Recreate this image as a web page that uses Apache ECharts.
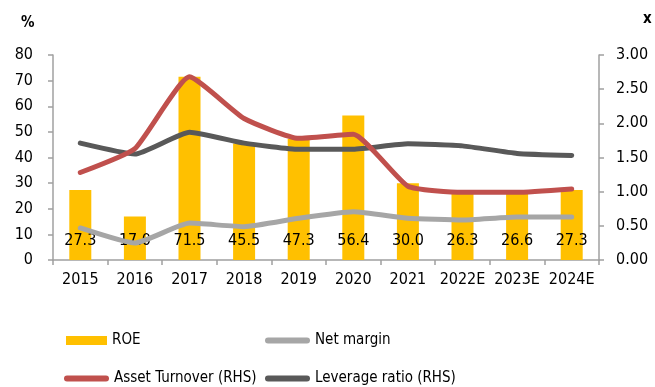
<!DOCTYPE html>
<html>
<head>
<meta charset="utf-8">
<script src="https://cdn.jsdelivr.net/npm/echarts@6/dist/echarts.min.js"></script>
<style>
  html, body { margin: 0; padding: 0; background: #fff; }
  #chart { width: 655px; height: 387px; }
</style>
</head>
<body>
<div id="chart"></div>
<script>
// Years on the category axis
const years = ['2015', '2016', '2017', '2018', '2019', '2020', '2021', '2022E', '2023E', '2024E'];
// Return on equity, % (left axis)
const roe = [27.3, 17.0, 71.5, 45.5, 47.3, 56.4, 30.0, 26.3, 26.6, 27.3];
// Net margin, % (left axis)
const netMargin = [12.5, 6.6, 14.4, 13.0, 16.3, 18.8, 16.3, 15.6, 16.8, 16.8];
// Asset turnover, x (right axis)
const assetTurnover = [1.28, 1.63, 2.68, 2.07, 1.78, 1.84, 1.08, 0.99, 0.99, 1.04];
// Leverage ratio, x (right axis)
const leverage = [1.71, 1.55, 1.87, 1.71, 1.62, 1.62, 1.70, 1.67, 1.56, 1.53];
// Axis tick labels
const leftTicks = [0, 10, 20, 30, 40, 50, 60, 70, 80];
const rightTicks = ['0.00', '0.50', '1.00', '1.50', '2.00', '2.50', '3.00'];

const FONT = '"DejaVu Sans Condensed", "DejaVu Sans", sans-serif';
const AXIS_GREY = '#A0A0A0';

// Pill-shaped swatch for the line series in the legend
const PILL = 'path://M3,0 L42,0 A3,3 0 0 1 42,6 L3,6 A3,3 0 0 1 3,0 Z';

const chart = echarts.init(document.getElementById('chart'), null, { renderer: 'canvas' });

const legendText = { fontFamily: FONT, fontSize: 15, color: '#000' };
const legendBase = { orient: 'horizontal', padding: 0, itemWidth: 44, itemHeight: 9, itemGap: 5, textStyle: legendText, selectedMode: false };
const lineLegend = { itemHeight: 6, itemWidth: 45 };

chart.setOption({
  animation: false,
  textStyle: { fontFamily: FONT },
  grid: { left: 53, right: 56, top: 55, height: 205 },
  legend: [
    Object.assign({}, legendBase, { data: [{ name: 'ROE', icon: 'rect' }], left: 66, top: 333, itemWidth: 41 }),
    Object.assign({}, legendBase, lineLegend, { data: [{ name: 'Net margin', icon: PILL }], left: 265, top: 333 }),
    Object.assign({}, legendBase, lineLegend, { data: [{ name: 'Asset Turnover (RHS)', icon: PILL }], left: 64, top: 371 }),
    Object.assign({}, legendBase, lineLegend, { data: [{ name: 'Leverage ratio (RHS)', icon: PILL }], left: 265, top: 371 })
  ],
  graphic: [
    { type: 'text', left: 21, top: 16, style: { text: '%', font: 'bold 15px ' + FONT, fill: '#000' } },
    { type: 'text', left: 643, top: 12, style: { text: 'x', font: 'bold 15px ' + FONT, fill: '#000' } }
  ],
  xAxis: {
    type: 'category',
    data: years,
    boundaryGap: true,
    axisLine: { lineStyle: { color: AXIS_GREY, width: 1.5 } },
    axisTick: { show: true, length: 5, lineStyle: { color: AXIS_GREY, width: 1.5 } },
    axisLabel: { fontFamily: FONT, fontSize: 16, color: '#000', margin: 12, interval: 0 }
  },
  yAxis: [
    {
      type: 'value',
      min: leftTicks[0],
      max: leftTicks[leftTicks.length - 1],
      interval: 10,
      splitLine: { show: false },
      axisLine: { show: true, lineStyle: { color: AXIS_GREY, width: 1.5 } },
      axisTick: { show: true, length: 5, lineStyle: { color: AXIS_GREY, width: 1.5 } },
      axisLabel: { fontFamily: FONT, fontSize: 16, color: '#000', margin: 20 }
    },
    {
      type: 'value',
      min: 0,
      max: 3,
      interval: 0.5,
      position: 'right',
      splitLine: { show: false },
      axisLine: { show: true, lineStyle: { color: AXIS_GREY, width: 1.5 } },
      axisTick: { show: true, length: 5, lineStyle: { color: AXIS_GREY, width: 1.5 } },
      axisLabel: {
        fontFamily: FONT, fontSize: 16, color: '#000', margin: 17,
        formatter: (v) => rightTicks[Math.round(v / 0.5)]
      }
    }
  ],
  series: [
    {
      name: 'ROE',
      type: 'bar',
      data: roe,
      barWidth: 22,
      itemStyle: { color: '#FFC000' },
      label: {
        show: true,
        position: 'insideBottom',
        distance: 11,
        formatter: (p) => p.value.toFixed(1),
        fontFamily: FONT,
        fontSize: 16,
        color: '#000'
      },
      z: 2
    },
    {
      name: 'Net margin',
      type: 'line',
      data: netMargin,
      yAxisIndex: 0,
      smooth: 0.15,
      symbol: 'none',
      lineStyle: { color: '#A6A6A6', width: 5, cap: 'round' },
      itemStyle: { color: '#A6A6A6' },
      z: 3
    },
    {
      name: 'Leverage ratio (RHS)',
      type: 'line',
      data: leverage,
      yAxisIndex: 1,
      smooth: 0.15,
      symbol: 'none',
      lineStyle: { color: '#595959', width: 5, cap: 'round' },
      itemStyle: { color: '#595959' },
      z: 3
    },
    {
      name: 'Asset Turnover (RHS)',
      type: 'line',
      data: assetTurnover,
      yAxisIndex: 1,
      smooth: 0.15,
      symbol: 'none',
      lineStyle: { color: '#C0504D', width: 5, cap: 'round' },
      itemStyle: { color: '#C0504D' },
      z: 4
    }
  ]
});
</script>
</body>
</html>
